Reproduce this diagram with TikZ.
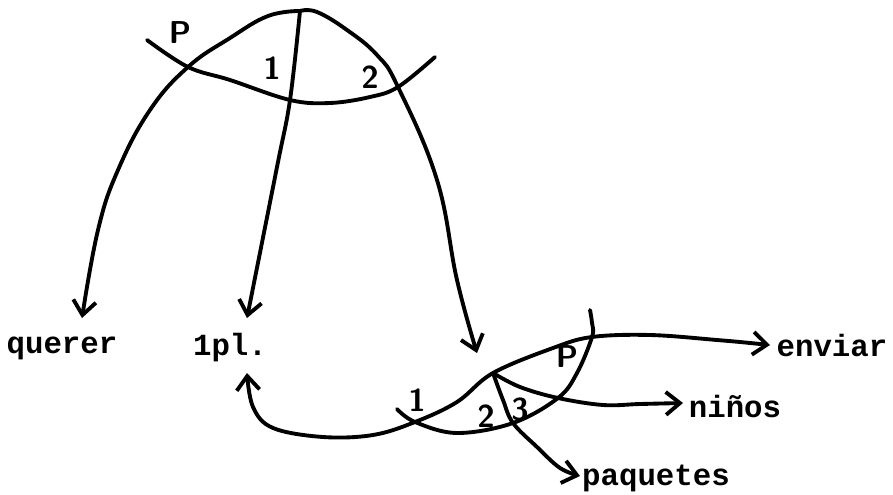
\documentclass[tikz,border=0pt]{standalone}
\usepackage{fontspec}
\newfontfamily\typefont{Liberation Mono}
\usetikzlibrary{arrows.meta}
\begin{document}
\begin{tikzpicture}[x=0.02cm,y=-0.02cm,
  >={Straight Barb[length=8pt,width=13pt]},
  ink/.style={line width=2.2pt,line cap=round,line join=round},
  word/.style={font=\typefont\bfseries\fontsize{17.5}{18}\selectfont},
  hand/.style={font=\sffamily\bfseries\fontsize{18}{18}\selectfont}]
\useasboundingbox (0,0) rectangle (893,494);
% upper figure
\coordinate (apex) at (300,11);
\coordinate (tP) at (188,67);
\coordinate (t1) at (290,100);
\coordinate (t2) at (398,87);
\coordinate (tL) at (147,40);
\coordinate (tR) at (435,57);
\coordinate (qtip) at (82,318);
\coordinate (ltip) at (247,318);
\coordinate (dtip) at (477,353);
% lower figure
\coordinate (bJ) at (493,373);
\coordinate (bX1) at (415,422);
\coordinate (bXP) at (592,337);
\coordinate (bX3) at (558,398);
\coordinate (bX2) at (513,423);
\coordinate (bTop) at (590,310);
\coordinate (bEnd) at (397,409);
\coordinate (btip) at (247,373);
\coordinate (etip) at (770,345);
\coordinate (ntip) at (683,403);
\coordinate (ptip) at (580,476);
% words
\node[word] (querer) at (62,348) {querer};
\node[word] (lpl) at (230,348) {1pl.};
\node[word] (enviar) at (832,346) {enviar};
\node[word] (ninos) at (735,407) {niños};
\node[word] (paquetes) at (656,478) {paquetes};
% upper curves
\draw[ink,->] plot[smooth,tension=.7] coordinates {(apex) (268,16) (230,38) (tP) (150,110) (118,170) (98,230) (qtip)};
\draw[ink,->] plot[smooth,tension=.7] coordinates {(apex) (317,12) (347,30) (377,55) (t2) (437,180) (457,280) (dtip)};
\draw[ink] plot[smooth,tension=.6] coordinates {(tL) (tP) (230,80) (t1) (330,103) (370,97) (t2) (tR)};
\draw[ink,->] plot[smooth,tension=.6] coordinates {(apex) (t1) (277,167) (ltip)};
\node[hand] (upP) at (180,33) {P};
\node[hand] (up1) at (272,68) {1};
\node[hand] (up2) at (370,77) {2};
% lower curves
\draw[ink,<->] plot[smooth,tension=.6] coordinates {(etip) (717,340) (650,335) (bXP) (553,348) (bJ) (457,402) (bX1) (373,435) (323,437) (273,428) (253,407) (btip)};
\draw[ink] plot[smooth,tension=.6] coordinates {(bTop) (592,323) (bXP) (577,373) (bX3) (bX2) (457,433) (bX1) (bEnd)};
\draw[ink,->] plot[smooth,tension=.6] coordinates {(bJ) (520,387) (bX3) (603,405) (640,404) (ntip)};
\draw[ink,->] plot[smooth,tension=.6] coordinates {(bJ) (503,400) (bX2) (537,447) (560,468) (ptip)};
\node[hand] (lo1) at (417,400) {1};
\node[hand] (lo2) at (486,416) {2};
\node[hand] (lo3) at (520,410) {3};
\node[hand] (loP) at (567,357) {P};
\end{tikzpicture}
\end{document}
